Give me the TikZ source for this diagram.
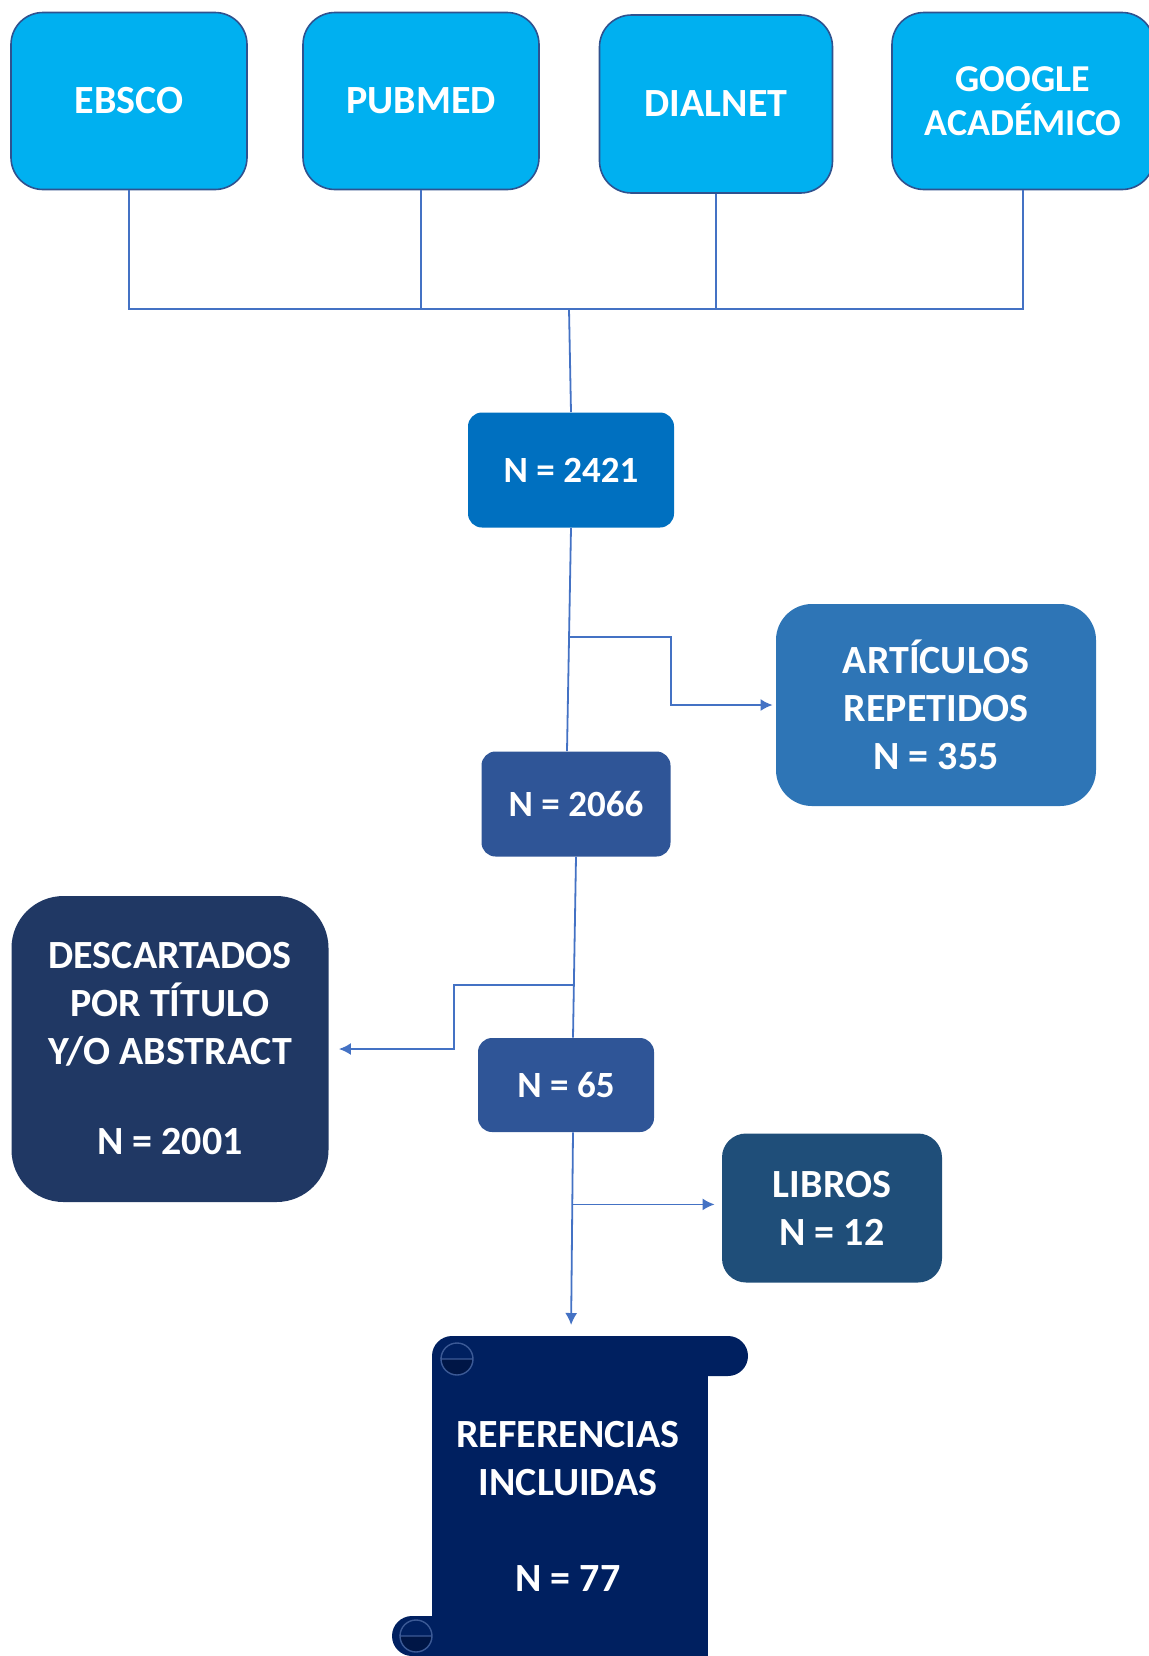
\documentclass[tikz,border=0pt]{standalone}
\usepackage{fontspec}
\setmainfont{Carlito}
\usetikzlibrary{arrows,calc,arrows.meta}
\tikzset{>=Latex}
\definecolor{sky}{RGB}{0,176,240}
\definecolor{skyedge}{RGB}{47,82,143}
\definecolor{blueA}{RGB}{0,112,192}
\definecolor{blueB}{RGB}{46,117,182}
\definecolor{blueC}{RGB}{47,85,151}
\definecolor{blueD}{RGB}{32,56,100}
\definecolor{blueE}{RGB}{31,78,121}
\definecolor{scrollfill}{RGB}{0,32,96}
\definecolor{scrolldark}{RGB}{0,22,70}
\definecolor{scrolledge}{RGB}{60,90,150}
\definecolor{linkblue}{RGB}{68,114,196}
\tikzset{
  box/.style={rectangle,inner sep=0pt,align=center,text=white,
    font=\bfseries\fontsize{20}{24}\selectfont},
  src/.style={box,fill=sky,draw=skyedge,line width=0.8pt,rounded corners=16pt,
    minimum width=118pt,minimum height=88.5pt},
  nbox/.style={box,fill=blueC,font=\bfseries\fontsize{18.5}{22}\selectfont,rounded corners=7pt},
  conn/.style={draw=linkblue,line width=0.9pt},
}

\begin{document}
\begin{tikzpicture}[x=0.5pt,y=-0.5pt,>={Latex[length=6pt,width=6pt]}]
\useasboundingbox (0,0) rectangle (1148,1656);
\node[src] (ebsco) at (129,101) {EBSCO};
\node[src] (pubmed) at (421,101) {PUBMED};
\node[src,minimum width=116.5pt,minimum height=89pt] (dialnet) at (716,104) {DIALNET};
\node[src,minimum width=131pt,font=\bfseries\fontsize{19}{22}\selectfont] (google) at (1023,101) {GOOGLE\\ACADÉMICO};
\node[nbox,fill=blueA,minimum width=103pt,minimum height=57.5pt] (total) at (571,470) {N = 2421};
\node[box,fill=blueB,rounded corners=18pt,minimum width=160pt,minimum height=101pt] (repeated) at (936,705) {ARTÍCULOS\\REPETIDOS\\N = 355};
\node[nbox,minimum width=94.5pt,minimum height=52.5pt] (unique) at (576,804) {N = 2066};
\node[box,fill=blueD,rounded corners=26pt,minimum width=158.5pt,minimum height=153pt] (discarded) at (170,1049) {DESCARTADOS\\POR TÍTULO\\Y/O ABSTRACT\\[21pt]N = 2001};
\node[nbox,minimum width=88pt,minimum height=47pt] (selected) at (566,1085) {N = 65};
\node[box,fill=blueE,rounded corners=12pt,minimum width=110pt,minimum height=74.5pt] (books) at (832,1208) {LIBROS\\N = 12};
\fill[scrollfill] (432,1356) rectangle (708,1656);
\fill[scrollfill,rounded corners=10pt] (432,1336) rectangle (748,1376);
\fill[scrollfill] (412,1616) rectangle (432,1656);
\fill[scrollfill] (412,1636) circle (10pt);
\fill[scrolldark] (441,1359) arc (180:360:8pt) -- cycle;
\draw[scrolledge,line width=0.7pt] (441,1359) arc (180:-180:8pt) -- (473,1359);
\fill[scrolldark] (400,1636) arc (180:360:8pt) -- cycle;
\draw[scrolledge,line width=0.7pt] (400,1636) arc (180:-180:8pt) -- (432,1636);
\node[box] (included) at (568,1506) {REFERENCIAS\\INCLUIDAS\\[24pt]N = 77};
\coordinate (hub) at (569,309);
\coordinate (scrolltop) at (571,1336);
\draw[conn] (ebsco.south) |- (google.south |- hub) -- (google.south);
\draw[conn] (pubmed.south) -- (pubmed.south |- hub);
\draw[conn] (dialnet.south) -- (dialnet.south |- hub);
\draw[conn] (hub) -- (total.north);
\draw[conn] (total.south) -- ([xshift=-4.5pt]unique.north);
\coordinate (b1) at ($(total.south)!0.49!([xshift=-4.5pt]unique.north)$);
\draw[conn,->,shorten >=1.5pt] (b1) -- ++(102,0) |- (repeated.west);
\draw[conn] (unique.south) -- ([xshift=3.5pt]selected.north);
\coordinate (b2) at ($(unique.south)!0.71!([xshift=3.5pt]selected.north)$);
\draw[conn,->,shorten >=5pt] (b2) -- ++(-120,0) |- (discarded.east);
\coordinate (b3) at ($([xshift=3.5pt]selected.south)+(0,72)$);
\draw[conn,->,shorten >=3.5pt] (b3) -- (b3 -| books.west);
\draw[conn,->,shorten >=5.5pt] ([xshift=3.5pt]selected.south) -- (scrolltop);
\end{tikzpicture}
\end{document}
